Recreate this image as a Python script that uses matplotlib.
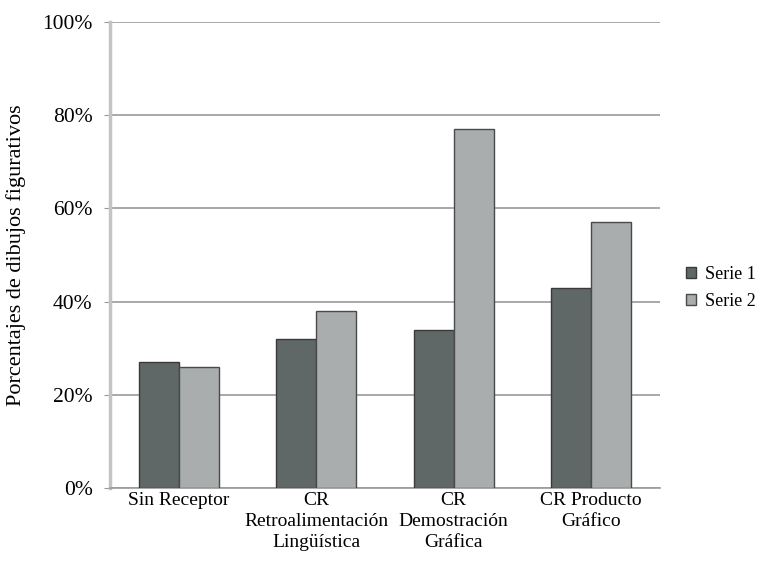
import matplotlib.pyplot as plt
import numpy as np

plt.rcParams['font.family'] = ['Liberation Serif', 'DejaVu Serif']

categories = ["Sin Receptor", "CR\nRetroalimentación\nLingüística",
              "CR\nDemostración\nGráfica", "CR Producto\nGráfico"]
serie1 = [27, 32, 34, 43]
serie2 = [26, 38, 77, 57]

fig = plt.figure(figsize=(7.62, 5.67), dpi=100)
ax = fig.add_axes([0.1444, 0.1393, 0.7216, 0.8218])

x = np.arange(len(categories))
w = 0.29
ax.bar(x - w / 2, serie1, w, color="#606767", edgecolor="#3a3a3a",
       linewidth=1, label="Serie 1", zorder=3)
ax.bar(x + w / 2, serie2, w, color="#a9adae", edgecolor="#4a4a4a",
       linewidth=1, label="Serie 2", zorder=3)

ax.set_xlim(-0.5, 3.5)
ax.set_ylim(0, 100)
ax.set_yticks([0, 20, 40, 60, 80, 100])
ax.set_yticklabels(["0%", "20%", "40%", "60%", "80%", "100%"], fontsize=15.5)
ax.set_xticks(x)
ax.set_xticklabels(categories, fontsize=14, linespacing=1.3)
ax.tick_params(axis="x", length=0, pad=3)
ax.tick_params(axis="y", length=4.5, color="#999999", pad=8)
ax.grid(axis="y", color="#9a9a9a", linewidth=1.2, zorder=0)

for s in ["top", "right"]:
    ax.spines[s].set_visible(False)
ax.spines["left"].set_color("#c4c4c4")
ax.spines["left"].set_linewidth(2.5)
ax.spines["bottom"].set_color("#9a9a9a")
ax.spines["bottom"].set_linewidth(1.2)

ax.set_ylabel("Porcentajes de dibujos figurativos", fontsize=16, labelpad=12)

ax.legend(loc="center left", bbox_to_anchor=(1.014, 0.43), frameon=False,
          fontsize=13, handlelength=0.55, handleheight=0.55, handletextpad=0.5,
          labelspacing=0.55, borderaxespad=0.6)

fig.savefig("out.png", dpi=100)
